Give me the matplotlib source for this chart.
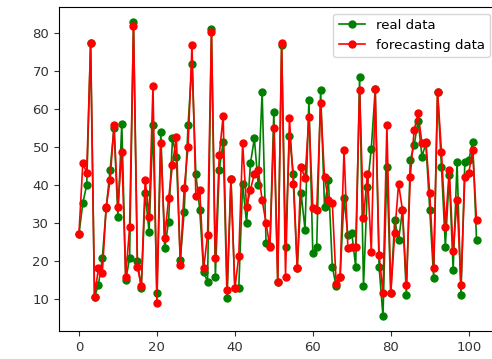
import numpy as np
import matplotlib
matplotlib.use("Agg")
import matplotlib.pyplot as plt

# valores reais e previstos (103 amostras)
real = [27, 35.3, 40, 77.3, 10.6, 13.7, 20.7, 34, 44, 55, 31.6, 56.2, 15, 20.7, 83,
        20, 13, 37.8, 27.7, 55.8, 11.7, 54, 23.3, 30.4, 52.3, 47.5, 20.3, 33, 55.8, 72,
        42.9, 33.4, 17, 14.6, 81, 15.9, 44, 51.4, 10.2, 41.5, 12.8, 12.8, 40.4, 30, 45.7,
        52.3, 40, 64.5, 24.7, 24, 59.3, 14.6, 77, 23.8, 52.9, 43, 18.1, 37.8, 28.3, 62.4,
        22, 23.8, 65, 34.3, 41.3, 18.5, 13.3, 15.9, 36.5, 26.8, 27.3, 18.5, 68.5, 13.3, 39.6,
        49.6, 65.2, 18.5, 5.4, 44.8, 11.5, 30.8, 25.5, 33.4, 11, 46.6, 50.5, 57, 47.5, 51,
        33.4, 15.5, 64.6, 44.8, 23.8, 42.6, 17.6, 46.1, 11, 46.1, 46.5, 51.4, 25.5]
previsto = [27, 45.7, 43.3, 77.3, 10.6, 18.1, 16.8, 34.3, 41.3, 55.8, 34.3, 48.8, 15.9, 28.9, 82,
            18.5, 13.3, 41.3, 31.6, 66, 8.9, 51, 26, 36.5, 45.3, 52.7, 19, 39.1, 50.1, 76.8,
            37, 38.7, 18.1, 26.8, 80.3, 20.7, 47.9, 58.2, 12.4, 41.5, 12.8, 21.2, 51, 34.3, 38.7,
            43, 44, 36, 30, 23.6, 54.9, 14.6, 77.5, 15.9, 57.6, 40.4, 18.1, 44.8, 41.8, 58,
            33.9, 33.4, 61.5, 42.2, 36, 35.2, 14, 15.9, 49.2, 23.3, 23.8, 23.8, 65, 31.2, 43,
            22.5, 65.2, 21.6, 11.5, 55.8, 11.5, 27.3, 40.3, 33.4, 13.7, 42.2, 54.5, 58.9, 51, 51.4,
            37.8, 18.1, 64.6, 48.8, 29, 44, 22.7, 36, 13.7, 42.2, 43.1, 49.2, 30.8]
x = np.arange(len(real))

fig = plt.figure(figsize=(4.92, 3.59), dpi=100)
ax = fig.add_axes([0.120, 0.0774, 0.889, 0.903])

ax.plot(x, real, "o-", color="green", label="real data", markersize=5, linewidth=1.2)
ax.plot(x, previsto, "o-", color="red", label="forecasting data", markersize=5, linewidth=1.2)
ax.tick_params(labelsize=9.5, colors="#333333")
ax.legend(loc="upper right", fontsize=9.5)

fig.savefig("out.png", dpi=100)
